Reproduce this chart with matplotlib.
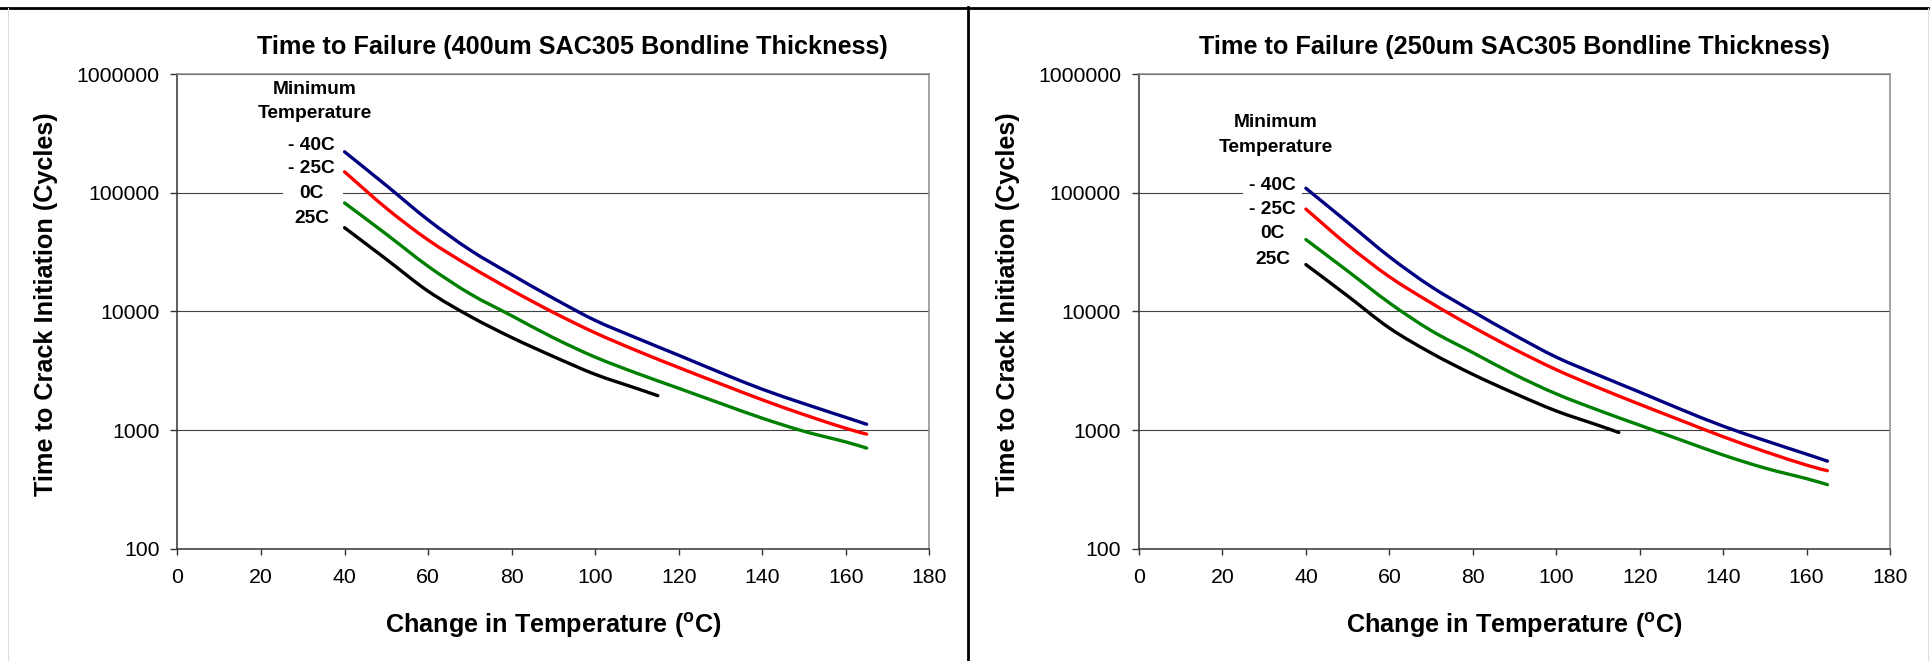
import matplotlib
matplotlib.use('Agg')
import numpy as np
import matplotlib.pyplot as plt
from matplotlib.ticker import FixedLocator, FuncFormatter, NullLocator
from matplotlib.patches import Rectangle, PathPatch
from matplotlib.path import Path
from matplotlib.lines import Line2D

plt.rcParams['font.family'] = ['Liberation Sans', 'DejaVu Sans']
plt.rcParams['mathtext.fontset'] = 'custom'
plt.rcParams['mathtext.rm'] = 'Liberation Sans'
plt.rcParams['mathtext.bf'] = 'Liberation Sans:bold'

# ---------------- data ----------------
delta_t = [40, 50, 60, 70, 80, 90, 100, 110, 120, 130, 140, 150, 160, 165]
delta_t_25c = [40, 50, 60, 70, 80, 90, 100, 110, 115]

# 400um bondline
ttf400_m40 = [221000, 115000, 59000, 33000, 20400, 12900, 8400, 5950, 4270, 3050, 2210, 1670, 1280, 1120]
ttf400_m25 = [150000, 74000, 40000, 24000, 15100, 9800, 6600, 4660, 3365, 2455, 1800, 1350, 1035, 925]
ttf400_0 = [82000, 44700, 24000, 14100, 9200, 6000, 4120, 3010, 2250, 1680, 1260, 977, 795, 705]
ttf400_25 = [50700, 27500, 14800, 9120, 6030, 4170, 2950, 2240, 1950]

# 250um bondline
ttf250_m40 = [109000, 56300, 28900, 16200, 10000, 6320, 4120, 2915, 2090, 1490, 1080, 818, 627, 548]
ttf250_m25 = [72800, 36300, 19600, 11800, 7400, 4800, 3230, 2285, 1650, 1203, 880, 660, 507, 455]
ttf250_0 = [40300, 21900, 11800, 6900, 4500, 2940, 2020, 1475, 1100, 823, 617, 479, 390, 347]
ttf250_25 = [24800, 13500, 7250, 4470, 2950, 2040, 1450, 1100, 955]

series_labels = ['- 40C', '- 25C', '0C', '25C']
series_colors = ['#000080', '#FF0000', '#008000', '#000000']
y_ticks = [100, 1000, 10000, 100000, 1000000]
x_ticks = [0, 20, 40, 60, 80, 100, 120, 140, 160, 180]
titles = ['Time to Failure (400um SAC305 Bondline Thickness)',
          'Time to Failure (250um SAC305 Bondline Thickness)']

# ---------------- figure ----------------
W, H = 1931, 661
fig = plt.figure(figsize=(W / 100, H / 100), dpi=100)


def fx(px):
    return px / W


def fy(py):
    return 1 - py / H


def smooth_line(ax, xs, ys, color, lw):
    """Excel-style smoothed line: cubic Bezier segments (Catmull-Rom control
    points) through the data points, computed in x / log10(y) space."""
    x = np.asarray(xs, float)
    ly = np.log10(np.asarray(ys, float))
    n = len(x)
    verts = [(x[0], ly[0])]
    codes = [Path.MOVETO]
    for i in range(n - 1):
        p0 = np.array([x[max(i - 1, 0)], ly[max(i - 1, 0)]])
        p1 = np.array([x[i], ly[i]])
        p2 = np.array([x[i + 1], ly[i + 1]])
        p3 = np.array([x[min(i + 2, n - 1)], ly[min(i + 2, n - 1)]])
        c1 = p1 + (p2 - p0) / 6.0
        c2 = p2 - (p3 - p1) / 6.0
        verts += [tuple(c1), tuple(c2), tuple(p2)]
        codes += [Path.CURVE4] * 3
    verts = [(vx, 10 ** vy) for vx, vy in verts]
    patch = PathPatch(Path(verts, codes), facecolor='none', edgecolor=color, lw=lw,
                      capstyle='round', joinstyle='round', zorder=3)
    ax.add_patch(patch)


panels = [
    dict(left=177.5, right=929.3, title_x=572.6,
         data=[(delta_t, ttf400_m40), (delta_t, ttf400_m25), (delta_t, ttf400_0), (delta_t_25c, ttf400_25)],
         head_x=315, head_y=(89.3, 114), lab_x=311.5, lab_y=(145, 168.3, 193.3, 218.3),
         box=(283.3, 342.7, 133, 231)),
    dict(left=1139, right=1890, title_x=1514.7,
         data=[(delta_t, ttf250_m40), (delta_t, ttf250_m25), (delta_t, ttf250_0), (delta_t_25c, ttf250_25)],
         head_x=1275.8, head_y=(122.7, 147.7), lab_x=1272.5, lab_y=(186, 209.3, 234, 259.3),
         box=(1242.7, 1302.3, 174, 271)),
]

top_px, bot_px = 74, 548.8

for i, p in enumerate(panels):
    ax = fig.add_axes([fx(p['left']), fy(bot_px), (p['right'] - p['left']) / W, (bot_px - top_px) / H])
    for (xs, ys), c in zip(p['data'], series_colors):
        smooth_line(ax, xs, ys, c, 2.4)
    ax.set_yscale('log')
    ax.set_ylim(100, 1000000)
    ax.set_xlim(0, 180)
    ax.yaxis.set_major_locator(FixedLocator(y_ticks))
    ax.yaxis.set_major_formatter(FuncFormatter(lambda v, pos: '%d' % round(v)))
    ax.yaxis.set_minor_locator(NullLocator())
    ax.xaxis.set_major_locator(FixedLocator(x_ticks))
    ax.tick_params(axis='both', direction='out', labelsize=15.3, color='#333333', width=1.0)
    ax.tick_params(axis='y', length=5, pad=8)
    ax.tick_params(axis='x', length=4.5, pad=9)
    ax.grid(axis='y', which='major', color='#404040', lw=0.8)
    ax.set_axisbelow(True)
    ax.spines['left'].set_color('#333333')
    ax.spines['bottom'].set_color('#333333')
    ax.spines['top'].set_color('#8c8c8c')
    ax.spines['right'].set_color('#8c8c8c')
    for s in ax.spines.values():
        s.set_linewidth(1.1)

    ax.text(-0.1745, 0.515, 'Time to Crack Initiation (Cycles)', transform=ax.transAxes,
            rotation=90, ha='center', va='center', fontsize=18.2, fontweight='bold')
    ax.text(0.5, -0.1618, r'Change in Temperature ($^{\mathbf{o}}$C)', transform=ax.transAxes,
            ha='center', va='center', fontsize=18.2, fontweight='bold')
    fig.text(fx(p['title_x']), fy(46.8), titles[i], ha='center', va='center',
             fontsize=18.2, fontweight='bold')

    # white box behind the series labels (breaks the gridline)
    x0, x1, y0, y1 = p['box']
    fig.patches.append(Rectangle((fx(x0), fy(y1)), (x1 - x0) / W, (y1 - y0) / H,
                                 transform=fig.transFigure, facecolor='white',
                                 edgecolor='none', zorder=1))
    fig.text(fx(p['head_x']), fy(p['head_y'][0]), 'Minimum', ha='center', va='center',
             fontsize=13.8, fontweight='bold', zorder=4)
    fig.text(fx(p['head_x']), fy(p['head_y'][1]), 'Temperature', ha='center', va='center',
             fontsize=13.8, fontweight='bold', zorder=4)
    for lab, ly in zip(series_labels, p['lab_y']):
        fig.text(fx(p['lab_x']), fy(ly), lab, ha='center', va='center',
                 fontsize=13.8, fontweight='bold', zorder=4)

# page borders
fig.lines.append(Line2D([fx(0), fx(1928)], [fy(7.5), fy(7.5)], transform=fig.transFigure,
                        color='black', lw=2.0))
fig.lines.append(Line2D([fx(967.7), fx(967.7)], [fy(7), fy(661)], transform=fig.transFigure,
                        color='black', lw=2.0))
fig.lines.append(Line2D([fx(8), fx(8)], [fy(8), fy(661)], transform=fig.transFigure,
                        color='#dddddd', lw=0.8))
fig.lines.append(Line2D([fx(1928), fx(1928)], [fy(8), fy(661)], transform=fig.transFigure,
                        color='#dddddd', lw=0.8))

fig.savefig('out.png', dpi=100)
